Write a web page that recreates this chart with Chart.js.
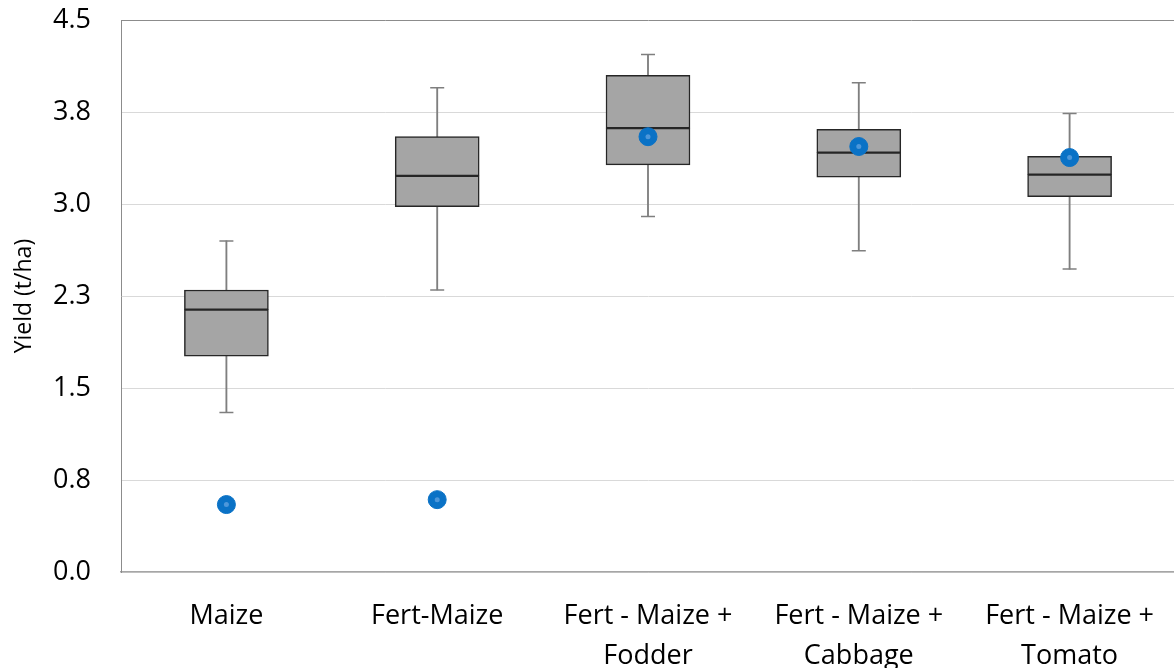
<!DOCTYPE html>
<html>
<head>
<meta charset="utf-8">
<script src="https://cdn.jsdelivr.net/npm/chart.js@4/dist/chart.umd.min.js"></script>
<style>
  html, body { margin: 0; padding: 0; background: #fff; overflow: hidden; }
  #wrap { width: 1185px; height: 694px; margin-top: -26px; }
</style>
</head>
<body>
<div id="wrap"><canvas id="yieldChart"></canvas></div>
<script>
// Données
const categories = ['Maize', 'Fert-Maize', ['Fert - Maize +', 'Fodder'], ['Fert - Maize +', 'Cabbage'], ['Fert - Maize +', 'Tomato']];
const minVals    = [1.30, 2.30, 2.90, 2.62, 2.47];
const q1Vals     = [1.76, 2.98, 3.32, 3.22, 3.06];
const medianVals = [2.14, 3.23, 3.62, 3.42, 3.24];
const q3Vals     = [2.30, 3.55, 4.05, 3.61, 3.39];
const maxVals    = [2.70, 3.95, 4.22, 3.99, 3.74];
const meanVals   = [0.55, 0.59, 3.55, 3.47, 3.38];
const yTicks     = [0, 0.75, 1.5, 2.25, 3, 3.75, 4.5];

const pair = (a, b) => a.map((v, i) => [v, b[i]]);

const boxStyle = {
    type: 'bar',
    grouped: false,
    barThickness: 84,
    backgroundColor: '#a5a5a5',
    borderColor: '#262626',
    borderWidth: 1.5,
    borderSkipped: false,
    order: 1
};
const whiskerStyle = {
    type: 'bar',
    grouped: false,
    barThickness: 1.2,
    backgroundColor: '#7f7f7f',
    borderWidth: 0,
    order: 3
};
const capStyle = {
    type: 'line',
    showLine: false,
    pointStyle: 'line',
    pointRadius: 7,
    pointBorderWidth: 1.5,
    pointBorderColor: '#7f7f7f',
    order: 2
};

const ctx = document.getElementById('yieldChart').getContext('2d');
new Chart(ctx, {
    data: {
        labels: categories,
        datasets: [
            { ...whiskerStyle, data: pair(minVals, q1Vals) },
            { ...whiskerStyle, data: pair(q3Vals, maxVals) },
            { ...boxStyle, data: pair(q1Vals, medianVals) },
            { ...boxStyle, data: pair(medianVals, q3Vals) },
            { ...capStyle, data: minVals },
            { ...capStyle, data: maxVals },
            {
                type: 'line',
                data: meanVals,
                showLine: false,
                pointRadius: 9,
                pointBackgroundColor: '#0a72c6',
                pointBorderColor: '#0a72c6',
                pointBorderWidth: 1,
                order: 0
            },
            {
                type: 'line',
                data: meanVals,
                showLine: false,
                pointRadius: 2.5,
                pointBackgroundColor: '#4d97da',
                pointBorderWidth: 0,
                order: -1
            }
        ]
    },
    options: {
        responsive: true,
        maintainAspectRatio: false,
        animation: false,
        layout: { padding: 0 },
        plugins: {
            legend: { display: false },
            tooltip: { enabled: false }
        },
        scales: {
            x: {
                type: 'category',
                offset: true,
                grid: { display: false, drawTicks: false },
                border: { display: true, color: '#a6a6a6', width: 1.5 },
                ticks: {
                    color: '#000',
                    padding: 24,
                    maxRotation: 0,
                    autoSkip: false,
                    font: { family: 'Open Sans', size: 27, lineHeight: 1.5 }
                },
                afterFit: (s) => { s.height = 96; }
            },
            y: {
                min: 0,
                max: 4.5,
                afterBuildTicks: (s) => { s.ticks = yTicks.map(v => ({ value: v })); },
                grid: {
                    drawTicks: false,
                    color: (c) => (c.tick && c.tick.value === 4.5 ? '#8c8c8c' : '#d9d9d9'),
                    lineWidth: 1
                },
                border: { display: true, color: '#8c8c8c', width: 1 },
                ticks: {
                    color: '#000',
                    padding: 30,
                    callback: (v) => Number(v).toFixed(1),
                    font: { family: 'Open Sans', size: 27 }
                },
                title: {
                    display: true,
                    text: 'Yield (t/ha)',
                    color: '#000',
                    padding: { top: 11, bottom: 0 },
                    font: { family: 'Open Sans', size: 23 }
                },
                afterFit: (s) => { s.width = 121; }
            }
        }
    }
});
</script>
</body>
</html>
